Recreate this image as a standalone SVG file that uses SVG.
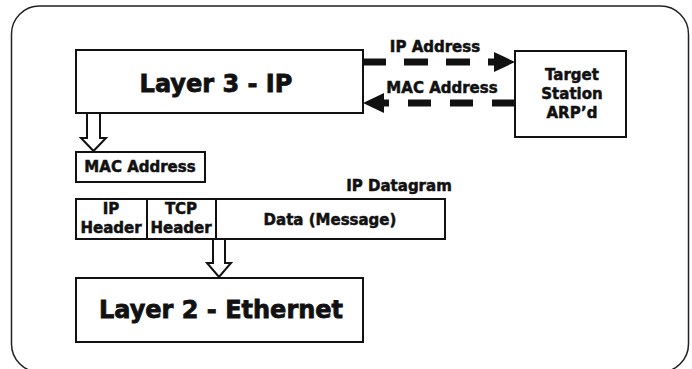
<svg xmlns="http://www.w3.org/2000/svg" width="692" height="369" viewBox="0 0 692 369">
<style>
.box{fill:#fff;stroke:#111;stroke-width:2}
.t{font-family:"DejaVu Sans",sans-serif;font-weight:bold;fill:#111;stroke:#111;stroke-width:0.5;text-anchor:middle}
.s{font-size:15px}
.b{font-size:24px;stroke-width:0.8}
.dash{stroke:#111;stroke-width:7;stroke-dasharray:24 18;fill:none}
.hollow{fill:#fff;stroke:#111;stroke-width:2;stroke-linejoin:miter}
</style>
<rect x="0" y="0" width="692" height="369" fill="#fff"/>
<rect x="11.5" y="6" width="677" height="366" rx="28" ry="28" fill="#fff" stroke="#222" stroke-width="1.5"/>
<g id="layer3">
<rect class="box" x="76" y="50" width="287" height="63"/>
<text class="t b" x="216" y="92">Layer 3 - IP</text>
</g>
<g id="target">
<rect class="box" x="515" y="51" width="111" height="86"/>
<text class="t s" x="572" y="80">Target</text>
<text class="t s" x="572" y="99">Station</text>
<text class="t s" x="572" y="118">ARP’d</text>
</g>
<g id="mac">
<rect class="box" x="76" y="152" width="129" height="30"/>
<text class="t s" x="140" y="172">MAC Address</text>
</g>
<g id="datagram">
<text class="t s" x="399" y="191">IP Datagram</text>
<rect class="box" x="76" y="199" width="369" height="40"/>
<line x1="147" y1="199" x2="147" y2="239" stroke="#111" stroke-width="2"/>
<line x1="216" y1="199" x2="216" y2="239" stroke="#111" stroke-width="2"/>
<text class="t s" x="111" y="214">IP</text>
<text class="t s" x="111" y="233">Header</text>
<text class="t s" x="181" y="214">TCP</text>
<text class="t s" x="181" y="233">Header</text>
<text class="t s" x="330" y="225">Data (Message)</text>
</g>
<g id="layer2">
<rect class="box" x="76" y="278" width="287" height="64"/>
<text class="t b" x="221" y="318">Layer 2 - Ethernet</text>
</g>
<g id="connectors">
<line class="dash" x1="362" y1="62" x2="496" y2="62"/>
<polygon points="494,52 515,62 494,72" fill="#111"/>
<text class="t s" x="435" y="52">IP Address</text>
<line class="dash" style="stroke-dasharray:23 19" x1="515" y1="103" x2="382" y2="103"/>
<polygon points="384,93 363,103 384,113" fill="#111"/>
<text class="t s" x="442" y="93">MAC Address</text>
<polygon class="hollow" points="87,113 100,113 100,138 106,138 93.5,151 81,138 87,138"/>
<polygon class="hollow" points="213,239 225,239 225,263 231,263 219,277 207,263 213,263"/>
</g>
</svg>
